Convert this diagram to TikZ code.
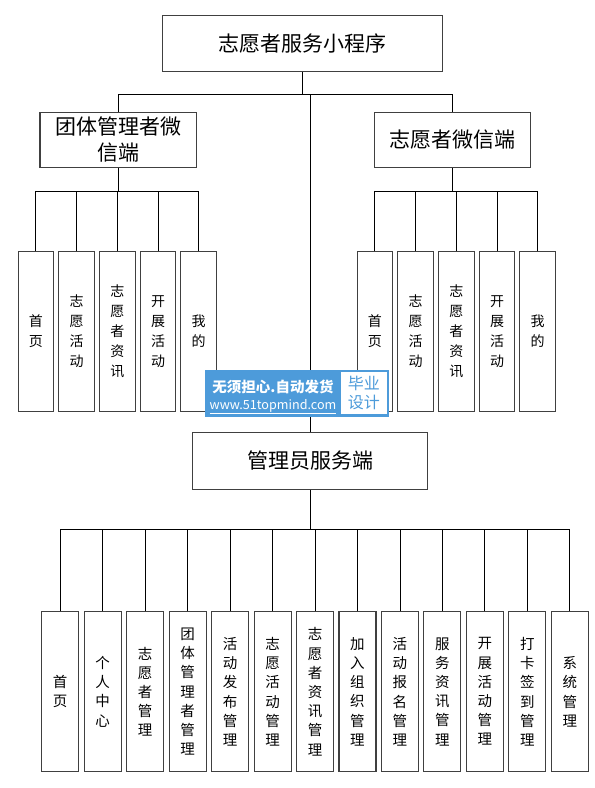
\documentclass[tikz,border=0pt]{standalone}
\usepackage{fontspec}
\setmainfont{Noto Sans CJK SC}
\usetikzlibrary{positioning}
\colorlet{boxline}{black!75}
\definecolor{wmblue}{RGB}{77,155,218}

\tikzset{
  headbox/.style={draw=boxline, line width=1.1pt, inner sep=0pt, align=center,
    font=\fontsize{21}{26}\selectfont},
  leafbox/.style={draw=boxline, line width=1.1pt, inner sep=0pt, align=center,
    minimum width=35.6pt, minimum height=159.3pt, font=\fontsize{14}{20}\selectfont},
  adminleaf/.style={leafbox, minimum width=37pt, minimum height=160pt,
    font=\fontsize{14.5}{19.2}\selectfont},
  link/.style={draw=black, line width=0.9pt},
}

\begin{document}
\begin{tikzpicture}[x=1pt, y=-1pt]
    \useasboundingbox (0,0) rectangle (595,788);

    % Top level
    \node[headbox, minimum width=280.3pt, minimum height=56pt] (app) at (302.2,43.7) {志愿者服务小程序};
    \node[headbox, minimum width=156.4pt, minimum height=55.4pt] (team) at (118.2,140) {团体管理者微\\信端};
    \node[headbox, minimum width=156pt, minimum height=55.4pt] (vol) at (452.9,140) {志愿者微信端};
    \node[headbox, minimum width=234.6pt, minimum height=56.3pt] (admin) at (310,460.9) {管理员服务端};

    \coordinate (appbus) at (310,94.3);
    \draw[link] (app.south) -- (app.south |- appbus);
    \draw[link] (team.north) -- (team.north |- appbus) -- (vol.north |- appbus) -- (vol.north);
    \draw[link] (appbus) -- (admin.north);

    % Team manager client
    \foreach \t [count=\i from 0] in {{首\\页},{志\\愿\\活\\动},{志\\愿\\者\\资\\讯},{开\\展\\活\\动},{我\\的}}
        \node[leafbox] (tw\i) at ({35.9+40.7*\i},331.4) {\t};
    \coordinate (teambus) at (118.2,191);
    \draw[link] (team.south) -- (teambus);
    \draw[link] (tw0.north |- teambus) -- (tw4.north |- teambus);
    \foreach \i in {0,...,4}
        \draw[link] (tw\i.north) -- (tw\i.north |- teambus);

    % Volunteer client
    \foreach \t [count=\i from 0] in {{首\\页},{志\\愿\\活\\动},{志\\愿\\者\\资\\讯},{开\\展\\活\\动},{我\\的}}
        \node[leafbox] (vw\i) at ({374.9+40.7*\i},331.4) {\t};
    \coordinate (volbus) at (452.9,191);
    \draw[link] (vol.south) -- (volbus);
    \draw[link] (vw0.north |- volbus) -- (vw4.north |- volbus);
    \foreach \i in {0,...,4}
        \draw[link] (vw\i.north) -- (vw\i.north |- volbus);

    % Admin client
    \foreach \t [count=\i from 0] in {{首\\页},{个\\人\\中\\心},{志\\愿\\者\\管\\理},{团\\体\\管\\理\\者\\管\\理},
        {活\\动\\发\\布\\管\\理},{志\\愿\\活\\动\\管\\理},{志\\愿\\者\\资\\讯\\管\\理},{加\\入\\组\\织\\管\\理},
        {活\\动\\报\\名\\管\\理},{服\\务\\资\\讯\\管\\理},{开\\展\\活\\动\\管\\理},{打\\卡\\签\\到\\管\\理},{系\\统\\管\\理}}
        \node[adminleaf] (aw\i) at ({60.2+42.47*\i},691.7) {\t};
    \coordinate (adminbus) at (310,529.3);
    \draw[link] (admin.south) -- (adminbus);
    \draw[link] (aw0.north |- adminbus) -- (aw12.north |- adminbus);
    \foreach \i in {0,...,12}
        \draw[link] (aw\i.north) -- (aw\i.north |- adminbus);

    % Watermark
    \node[fill=wmblue, minimum width=184pt, minimum height=46.7pt, inner sep=0pt] (mark) at (297,393.4) {};
    \node[fill=white, minimum width=45.7pt, minimum height=42.6pt, inner sep=0pt, align=center,
        text=wmblue, font=\fontsize{16}{18.3}\selectfont] (markbadge) at (363.9,393) {毕业\\设计};
    \node[text=white, inner sep=0pt, font=\fontsize{14.5}{16}\selectfont\bfseries] (markline) at (273,386.7) {无须担心.自动发货};
    \node[text=white, inner sep=0pt, font=\fontsize{12.6}{16}\selectfont] (markurl) at (273,406.7) {\underline{www.51topmind.com}};
\end{tikzpicture}
\end{document}
